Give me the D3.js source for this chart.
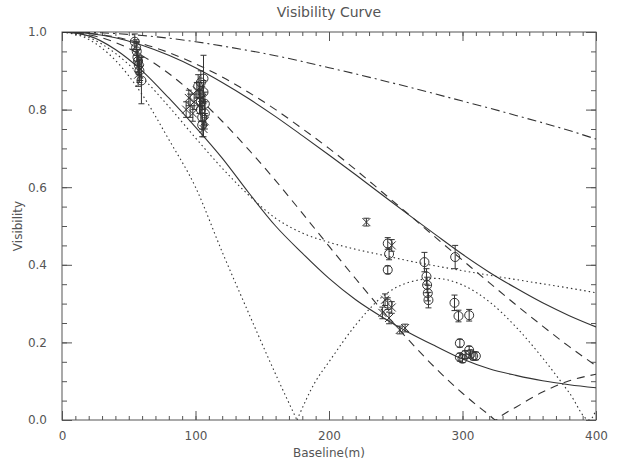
<!DOCTYPE html>
<html>
<head>
<meta charset="utf-8">
<script src="https://cdn.jsdelivr.net/npm/d3@7"></script>
<style>
    body { margin: 0; background: #fff; }
    text { font-family: "DejaVu Sans", sans-serif; fill: #555; }
    .axis path, .axis line { stroke: #555; }
</style>
</head>
<body>
<svg id="chart" width="618" height="462"></svg>
<script>

// model curves (baseline in m, visibility)
var curveB = [0, 20, 40, 60, 80, 100, 120, 140, 160, 180, 200, 220, 240, 260, 280, 300, 320, 340, 360, 380, 400];
var dashDotV   = [1, 0.999, 0.996, 0.991, 0.984, 0.975, 0.964, 0.952, 0.939, 0.924, 0.908, 0.892, 0.875, 0.858, 0.840, 0.822, 0.804, 0.785, 0.766, 0.746, 0.724];
var solidUpV   = [1, 0.996, 0.985, 0.966, 0.940, 0.908, 0.870, 0.828, 0.782, 0.733, 0.683, 0.632, 0.580, 0.528, 0.477, 0.427, 0.381, 0.340, 0.302, 0.269, 0.240];
var dashUpV    = [1, 0.997, 0.987, 0.970, 0.947, 0.918, 0.884, 0.844, 0.800, 0.751, 0.700, 0.645, 0.587, 0.529, 0.470, 0.412, 0.354, 0.297, 0.242, 0.189, 0.140];
var solidLowV  = [1, 0.990, 0.955, 0.900, 0.830, 0.755, 0.675, 0.585, 0.500, 0.430, 0.365, 0.310, 0.265, 0.225, 0.190, 0.157, 0.132, 0.115, 0.101, 0.091, 0.083];
var dotHaloV   = [1, 0.986, 0.945, 0.883, 0.808, 0.727, 0.649, 0.579, 0.520, 0.482, 0.458, 0.440, 0.425, 0.410, 0.397, 0.385, 0.373, 0.362, 0.351, 0.340, 0.328];

// lower dashed curve: drops to zero near 325 m then rises again
var dashLowB = [0, 20, 40, 60, 80, 100, 120, 140, 160, 180, 200, 220, 240, 260, 280, 300, 310, 320, 325, 330, 340, 360, 380, 400];
var dashLowV = [1, 0.993, 0.973, 0.939, 0.893, 0.836, 0.770, 0.696, 0.617, 0.533, 0.448, 0.364, 0.282, 0.205, 0.133, 0.069, 0.040, 0.013, 0, 0.013, 0.033, 0.072, 0.101, 0.118];

// ring-like dotted curve: zero near 176 m, second lobe, zero near 395 m
var ringB = [0, 20, 40, 60, 80, 100, 120, 140, 160, 176, 190, 200, 220, 240, 260, 280, 300, 320, 340, 360, 380, 395, 400];
var ringV = [1, 0.981, 0.927, 0.839, 0.723, 0.600, 0.433, 0.274, 0.118, 0, 0.100, 0.150, 0.245, 0.318, 0.355, 0.365, 0.348, 0.305, 0.240, 0.160, 0.070, 0, 0.025];

// measured points: baseline, visibility, error, marker ("o" circle, "x" cross)
var obsB   = [54.5, 55.5, 56, 56.5, 57, 57.5, 58, 59.5, 57, 58.5,
              93, 95, 96, 98, 99, 101, 103, 105, 107, 106,
              102, 103, 104, 104, 105, 105, 106, 106, 107, 107, 104,
              228, 244, 245, 244, 247, 240, 242, 244, 245, 247, 253, 257,
              271.5, 273, 273.5, 274, 274.5,
              294.5, 294, 297, 305, 298, 298, 300, 302, 305, 306, 308, 310];
var obsV   = [0.975, 0.96, 0.95, 0.935, 0.925, 0.915, 0.90, 0.875, 0.89, 0.905,
              0.80, 0.83, 0.81, 0.79, 0.82, 0.85, 0.81, 0.83, 0.77, 0.75,
              0.86, 0.84, 0.82, 0.80, 0.78, 0.76, 0.88, 0.845, 0.815, 0.79, 0.87,
              0.51, 0.455, 0.428, 0.387, 0.45, 0.276, 0.31, 0.30, 0.263, 0.29, 0.232, 0.237,
              0.407, 0.37, 0.348, 0.327, 0.309,
              0.42, 0.302, 0.268, 0.27, 0.198, 0.162, 0.158, 0.168, 0.18, 0.17, 0.165, 0.165];
var obsErr = [0.02, 0.02, 0.025, 0.02, 0.03, 0.025, 0.03, 0.06, 0.03, 0.03,
              0.02, 0.02, 0.03, 0.02, 0.02, 0.02, 0.02, 0.03, 0.02, 0.02,
              0.03, 0.03, 0.03, 0.03, 0.03, 0.03, 0.06, 0.03, 0.03, 0.03, 0.03,
              0.01, 0.015, 0.015, 0.01, 0.015, 0.015, 0.015, 0.015, 0.015, 0.015, 0.01, 0.01,
              0.025, 0.02, 0.02, 0.02, 0.02,
              0.03, 0.02, 0.015, 0.015, 0.01, 0.01, 0.01, 0.01, 0.01, 0.01, 0.01, 0.01];
var obsMark = ["o", "o", "o", "o", "o", "o", "o", "o", "x", "x",
               "x", "x", "x", "x", "x", "x", "x", "x", "x", "x",
               "o", "o", "o", "o", "o", "o", "o", "o", "o", "o", "o",
               "x", "o", "o", "o", "x", "x", "x", "o", "x", "x", "x", "x",
               "o", "o", "o", "o", "o",
               "o", "o", "o", "o", "o", "o", "o", "o", "o", "o", "o", "o"];

var xTicks = [0, 100, 200, 300, 400];
var yTicks = [0.0, 0.2, 0.4, 0.6, 0.8, 1.0];

var margin = {top: 32, right: 22, bottom: 42, left: 62};
var width = 618 - margin.left - margin.right;
var height = 462 - margin.top - margin.bottom;

var svg = d3.select("#chart");
var plot = svg.append("g")
    .attr("transform", "translate(" + margin.left + "," + margin.top + ")");

var x = d3.scaleLinear().domain([0, 400]).range([0, width]);
var y = d3.scaleLinear().domain([0, 1]).range([height, 0]);

plot.append("clipPath")
    .attr("id", "clip")
    .append("rect")
    .attr("width", width)
    .attr("height", height);

// frame with inward ticks on all four sides
function addAxis(axis, transform) {
    var g = plot.append("g")
        .attr("class", "axis")
        .attr("transform", transform)
        .call(axis);
    g.select(".domain").remove();
    return g;
}

var xMinor = d3.range(0, 401, 10);
var yMinor = d3.range(0, 1.0001, 0.05);

addAxis(d3.axisBottom(x).tickValues(xMinor).tickSizeInner(-4).tickFormat(""), "translate(0," + height + ")");
addAxis(d3.axisTop(x).tickValues(xMinor).tickSizeInner(-4).tickFormat(""), "translate(0,0)");
addAxis(d3.axisLeft(y).tickValues(yMinor).tickSizeInner(-5).tickFormat(""), "translate(0,0)");
addAxis(d3.axisRight(y).tickValues(yMinor).tickSizeInner(-5).tickFormat(""), "translate(" + width + ",0)");

var xAxis = addAxis(d3.axisBottom(x).tickValues(xTicks).tickSizeInner(-9).tickPadding(11).tickFormat(d3.format("d")),
    "translate(0," + height + ")");
addAxis(d3.axisTop(x).tickValues(xTicks).tickSizeInner(-9).tickFormat(""), "translate(0,0)");
var yAxis = addAxis(d3.axisLeft(y).tickValues(yTicks).tickSizeInner(-10).tickPadding(15).tickFormat(d3.format(".1f")),
    "translate(0,0)");
addAxis(d3.axisRight(y).tickValues(yTicks).tickSizeInner(-10).tickFormat(""), "translate(" + width + ",0)");

xAxis.selectAll("text").style("font-size", "12px").style("fill", "#555");
yAxis.selectAll("text").style("font-size", "12px").style("fill", "#555");

plot.append("rect")
    .attr("width", width)
    .attr("height", height)
    .attr("fill", "none")
    .attr("stroke", "#555")
    .attr("stroke-width", 1);

// model curves
var line = d3.line()
    .x(function(d) { return x(d[0]); })
    .y(function(d) { return y(d[1]); })
    .curve(d3.curveMonotoneX);

function pairs(bs, vs) {
    return bs.map(function(b, i) { return [b, vs[i]]; });
}

var curves = [
    {data: pairs(curveB, dashDotV), dash: "9,4,2,4"},
    {data: pairs(curveB, solidUpV), dash: null},
    {data: pairs(curveB, dashUpV), dash: "8,6"},
    {data: pairs(curveB, solidLowV), dash: null},
    {data: pairs(curveB, dotHaloV), dash: "1.5,3"},
    {data: pairs(dashLowB, dashLowV), dash: "8,6"},
    {data: pairs(ringB.slice(0, 10), ringV.slice(0, 10)), dash: "1.5,3"},
    {data: pairs(ringB.slice(9), ringV.slice(9)), dash: "1.5,3"}
];

plot.append("g")
    .attr("clip-path", "url(#clip)")
    .selectAll(".line")
    .data(curves)
    .enter().append("path")
    .attr("class", "line")
    .attr("fill", "none")
    .attr("stroke", "#333")
    .attr("stroke-width", 1.1)
    .attr("stroke-dasharray", function(d) { return d.dash; })
    .attr("d", function(d) { return line(d.data); });

// measurements with error bars
var points = obsB.map(function(b, i) {
    return {b: b, v: obsV[i], err: obsErr[i], mark: obsMark[i]};
});

var pts = plot.append("g")
    .selectAll(".pt")
    .data(points)
    .enter().append("g")
    .attr("class", "pt")
    .attr("stroke", "#333")
    .attr("stroke-width", 1)
    .attr("fill", "none");

pts.append("line")
    .attr("x1", function(d) { return x(d.b); })
    .attr("x2", function(d) { return x(d.b); })
    .attr("y1", function(d) { return y(d.v - d.err); })
    .attr("y2", function(d) { return y(d.v + d.err); });

pts.append("path")
    .attr("d", function(d) {
        var cx = x(d.b), top = y(d.v + d.err), bot = y(d.v - d.err);
        return "M" + (cx - 3) + "," + top + "H" + (cx + 3) + "M" + (cx - 3) + "," + bot + "H" + (cx + 3);
    });

pts.filter(function(d) { return d.mark === "o"; })
    .append("circle")
    .attr("cx", function(d) { return x(d.b); })
    .attr("cy", function(d) { return y(d.v); })
    .attr("r", 4.5);

pts.filter(function(d) { return d.mark === "x"; })
    .append("path")
    .attr("d", function(d) {
        var cx = x(d.b), cy = y(d.v), s = 4;
        return "M" + (cx - s) + "," + (cy - s) + "L" + (cx + s) + "," + (cy + s) +
            "M" + (cx - s) + "," + (cy + s) + "L" + (cx + s) + "," + (cy - s);
    });

// titles
svg.append("text")
    .attr("x", margin.left + width / 2)
    .attr("y", 17)
    .attr("text-anchor", "middle")
    .style("font-size", "14px")
    .text("Visibility Curve");

svg.append("text")
    .attr("x", margin.left + width / 2)
    .attr("y", 457)
    .attr("text-anchor", "middle")
    .style("font-size", "12px")
    .text("Baseline(m)");

svg.append("text")
    .attr("transform", "translate(22," + (margin.top + height / 2) + ") rotate(-90)")
    .attr("text-anchor", "middle")
    .style("font-size", "12px")
    .text("Visibility");

</script>
</body>
</html>
